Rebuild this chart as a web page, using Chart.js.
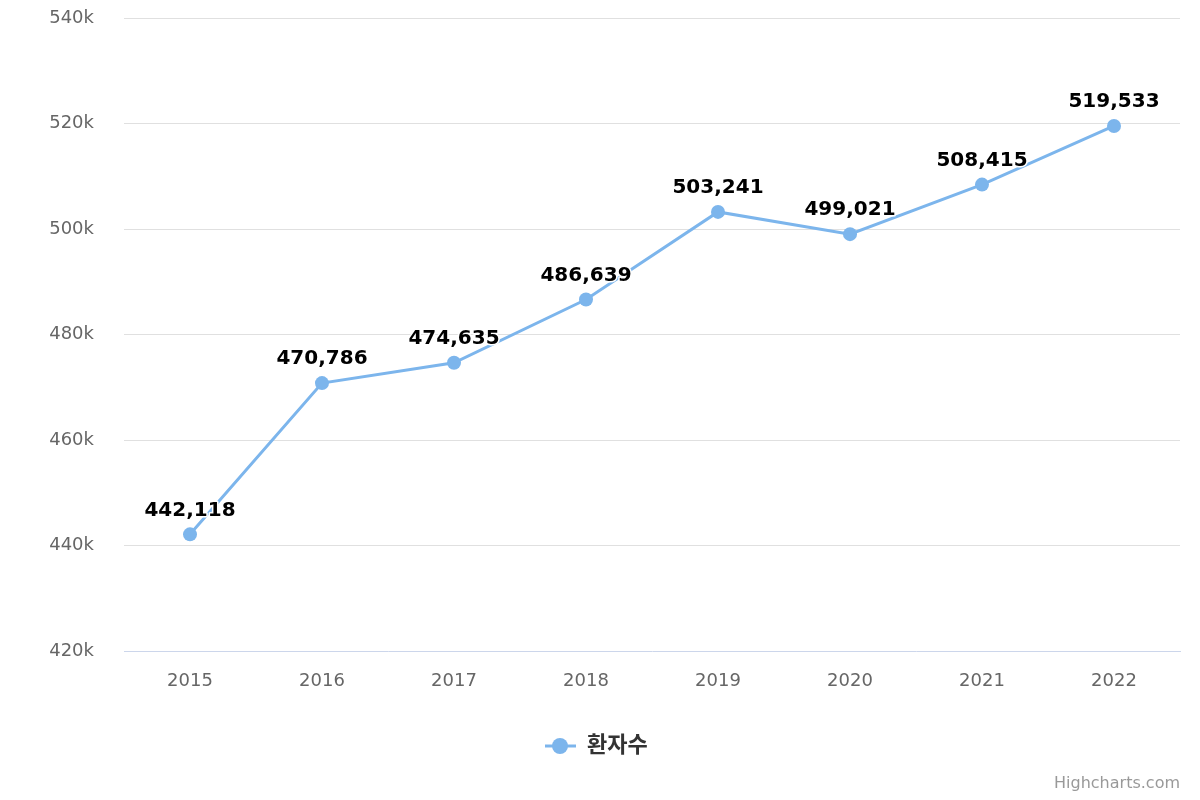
<!DOCTYPE html>
<html>
<head>
<meta charset="utf-8">
<script src="https://cdn.jsdelivr.net/npm/chart.js@4"></script>
<style>
  html, body { margin: 0; padding: 0; background: #fff; }
  #wrap { width: 1200px; height: 800px; position: relative; }
</style>
</head>
<body>
<div id="wrap"><canvas id="myChart" width="1200" height="800"></canvas></div>
<script>
const years = ["2015", "2016", "2017", "2018", "2019", "2020", "2021", "2022"];
const patients = [442118, 470786, 474635, 486639, 503241, 499021, 508415, 519533];
const seriesName = "환자수";
const yMin = 420000;
const yMax = 540000;
const yStep = 20000;

const fontFamily = '"DejaVu Sans", "Noto Sans CJK KR", sans-serif';
const lineColor = "#7cb5ec";

// data labels above each point, with white halo like highcharts
const labelPlugin = {
  id: "pointLabels",
  afterDatasetsDraw(chart) {
    const ctx = chart.ctx;
    const meta = chart.getDatasetMeta(0);
    ctx.save();
    ctx.font = "bold 20px " + fontFamily;
    ctx.textAlign = "center";
    ctx.textBaseline = "middle";
    ctx.lineJoin = "round";
    meta.data.forEach((pt, i) => {
      const txt = patients[i].toLocaleString("en-US");
      const y = pt.y - 24;
      ctx.strokeStyle = "#fff";
      ctx.lineWidth = 3;
      ctx.strokeText(txt, pt.x, y);
      ctx.fillStyle = "#000";
      ctx.fillText(txt, pt.x, y);
    });
    ctx.restore();
  }
};

const legendPlugin = {
  id: "legendCredits",
  afterDraw(chart) {
    const ctx = chart.ctx;
    ctx.save();
    // legend
    const cy = 746;
    ctx.strokeStyle = lineColor;
    ctx.lineWidth = 3;
    ctx.beginPath();
    ctx.moveTo(545, cy);
    ctx.lineTo(576, cy);
    ctx.stroke();
    ctx.fillStyle = lineColor;
    ctx.beginPath();
    ctx.arc(560, cy, 8, 0, Math.PI * 2);
    ctx.fill();
    ctx.fillStyle = "#333";
    ctx.font = "bold 22px " + fontFamily;
    ctx.textAlign = "left";
    ctx.textBaseline = "middle";
    ctx.fillText(seriesName, 587, cy);
    // credits
    ctx.fillStyle = "#999";
    ctx.font = "16px " + fontFamily;
    ctx.textAlign = "right";
    ctx.fillText("Highcharts.com", 1180, 784);
    ctx.restore();
  }
};

const config = {
  type: "line",
  data: {
    labels: years,
    datasets: [{
      label: seriesName,
      data: patients,
      borderColor: lineColor,
      backgroundColor: lineColor,
      borderWidth: 3,
      pointRadius: 7,
      pointHoverRadius: 7,
      pointBorderWidth: 0,
      tension: 0
    }]
  },
  plugins: [labelPlugin, legendPlugin],
  options: {
    responsive: false,
    animation: false,
    layout: { padding: { top: 18, right: 20, bottom: 89, left: 0 } },
    plugins: {
      legend: { display: false },
      tooltip: { enabled: false }
    },
    scales: {
      x: {
        offset: true,
        grid: { display: false, drawTicks: false },
        border: { color: "#ccd6eb", width: 1 },
        ticks: { color: "#666", font: { family: fontFamily, size: 18 }, padding: 20 },
        afterFit: (s) => { s.height = 60; }
      },
      y: {
        min: yMin,
        max: yMax,
        grid: {
          color: (c) => (c.tick && c.tick.value === yMin ? "rgba(0,0,0,0)" : "#e0e0e0"),
          drawTicks: false
        },
        border: { display: false },
        ticks: {
          stepSize: yStep,
          color: "#666",
          padding: 30,
          font: { family: fontFamily, size: 18 },
          callback: (v) => (v / 1000) + "k"
        },
        afterFit: (s) => { s.width = 124; s.paddingTop = 0; s.paddingBottom = 0; }
      }
    }
  }
};

const myChart = document.getElementById("myChart");
new Chart(myChart, config);
</script>
</body>
</html>
